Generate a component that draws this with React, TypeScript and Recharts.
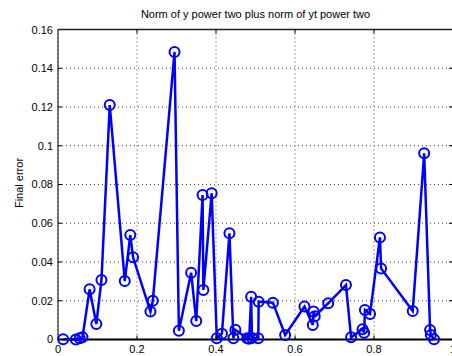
import { LineChart, Line, XAxis, YAxis, CartesianGrid, ReferenceLine } from 'recharts';

// sample positions and final error at each sample
const xValues = [
  0.013, 0.045, 0.055, 0.062, 0.08, 0.097, 0.11, 0.131, 0.169, 0.183, 0.19, 0.234, 0.24,
  0.295, 0.306, 0.337, 0.35, 0.366, 0.368, 0.389, 0.402, 0.415, 0.434, 0.444, 0.449, 0.479,
  0.484, 0.489, 0.491, 0.507, 0.508, 0.544, 0.575, 0.624, 0.645, 0.647, 0.65, 0.684, 0.729,
  0.742, 0.771, 0.775, 0.777, 0.79, 0.815, 0.818, 0.898, 0.927, 0.942, 0.944, 0.952,
];
const errorValues = [
  0.0001, 0.0, 0.0006, 0.0011, 0.0259, 0.008, 0.0307, 0.121, 0.0302, 0.0539, 0.0424, 0.0144,
  0.02, 0.1484, 0.0045, 0.0345, 0.0095, 0.0746, 0.0256, 0.0755, 0.0006, 0.003, 0.0548, 0.0006,
  0.005, 0.0006, 0.0004, 0.022, 0.0008, 0.0006, 0.0195, 0.019, 0.0023, 0.017, 0.0075, 0.0144,
  0.012, 0.0187, 0.0281, 0.0011, 0.0053, 0.0035, 0.0152, 0.0132, 0.0527, 0.0367, 0.0147,
  0.0961, 0.0049, 0.0023, 0.0001,
];
const xTicks = [0, 0.2, 0.4, 0.6, 0.8, 1];
const yTicks = [0, 0.02, 0.04, 0.06, 0.08, 0.1, 0.12, 0.14, 0.16];

const data = xValues.map((x, i) => ({ x, err: errorValues[i] }));

const FONT = 'Arial, "Liberation Sans", Helvetica, sans-serif';
const TICK_LEN = 4;
const WIDTH = 470;
const HEIGHT = 356;
const MARGIN = { top: 29.5, right: 17, bottom: 16.5, left: 58 };
const PLOT_W = WIDTH - MARGIN.left - MARGIN.right;
const PLOT_H = HEIGHT - MARGIN.top - MARGIN.bottom;

// ticks on the box corners would just sit on the border
const atXEdge = (v: number) => v === xTicks[0] || v === xTicks[xTicks.length - 1];
const atYEdge = (v: number) => v === yTicks[0] || v === yTicks[yTicks.length - 1];

// MATLAB style: tick marks point into the box, on both opposite sides
function BottomTick({ x, y, payload }: any) {
  const edge = atXEdge(payload.value);
  return (
    <g>
      {!edge && <line x1={x} x2={x} y1={y} y2={y - TICK_LEN} stroke="#000" />}
      {!edge && <line x1={x} x2={x} y1={y - PLOT_H} y2={y - PLOT_H + TICK_LEN} stroke="#000" />}
      <text x={x} y={y + 14} textAnchor="middle" fontSize={11} fontFamily={FONT} fill="#000">
        {String(payload.value)}
      </text>
    </g>
  );
}

function LeftTick({ x, y, payload }: any) {
  const edge = atYEdge(payload.value);
  return (
    <g>
      {!edge && <line x1={x} x2={x + TICK_LEN} y1={y} y2={y} stroke="#000" />}
      {!edge && <line x1={x + PLOT_W} x2={x + PLOT_W - TICK_LEN} y1={y} y2={y} stroke="#000" />}
      <text x={x - 5} y={y + 4} textAnchor="end" fontSize={11} fontFamily={FONT} fill="#000">
        {String(payload.value)}
      </text>
    </g>
  );
}

export default function App() {
  return (
    <div
      style={{
        position: 'absolute',
        left: 0,
        top: 0,
        width: 452,
        height: 356,
        overflow: 'hidden',
        background: '#fff',
        fontFamily: FONT,
      }}
    >
      <div
        style={{
          position: 'absolute',
          left: 58,
          width: 395,
          top: 8,
          textAlign: 'center',
          fontSize: 11,
          color: '#000',
        }}
      >
        Norm of y power two plus norm of yt power two
      </div>
      <div
        style={{
          position: 'absolute',
          left: 19,
          top: 183,
          fontSize: 11,
          color: '#000',
          whiteSpace: 'nowrap',
          transform: 'translate(-50%, -50%) rotate(-90deg)',
        }}
      >
        Final error
      </div>
      <div style={{ position: 'absolute', left: 0, top: 0 }}>
        <LineChart width={WIDTH} height={HEIGHT} data={data} margin={MARGIN}>
          <CartesianGrid stroke="#444" strokeDasharray="1 3" />
          <XAxis
            dataKey="x"
            type="number"
            domain={[0, 1]}
            ticks={xTicks}
            height={0.01}
            tickSize={0}
            tickMargin={0}
            tickLine={false}
            axisLine={{ stroke: '#000', strokeWidth: 2 }}
            tick={BottomTick}
            interval={0}
          />
          <YAxis
            type="number"
            domain={[0, 0.16]}
            ticks={yTicks}
            width={0.01}
            tickSize={0}
            tickMargin={0}
            tickLine={false}
            axisLine={{ stroke: '#000' }}
            tick={LeftTick}
            interval={0}
          />
          {/* top and right sides of the box */}
          <ReferenceLine y={yTicks[yTicks.length - 1]} stroke="#222" strokeWidth={1.5} />
          <ReferenceLine x={xTicks[xTicks.length - 1]} stroke="#000" />
          <Line
            dataKey="err"
            type="linear"
            stroke="#0000ff"
            strokeWidth={2.5}
            dot={{ r: 5, stroke: '#0000ff', strokeWidth: 2, fill: 'none' }}
            isAnimationActive={false}
          />
        </LineChart>
      </div>
    </div>
  );
}
